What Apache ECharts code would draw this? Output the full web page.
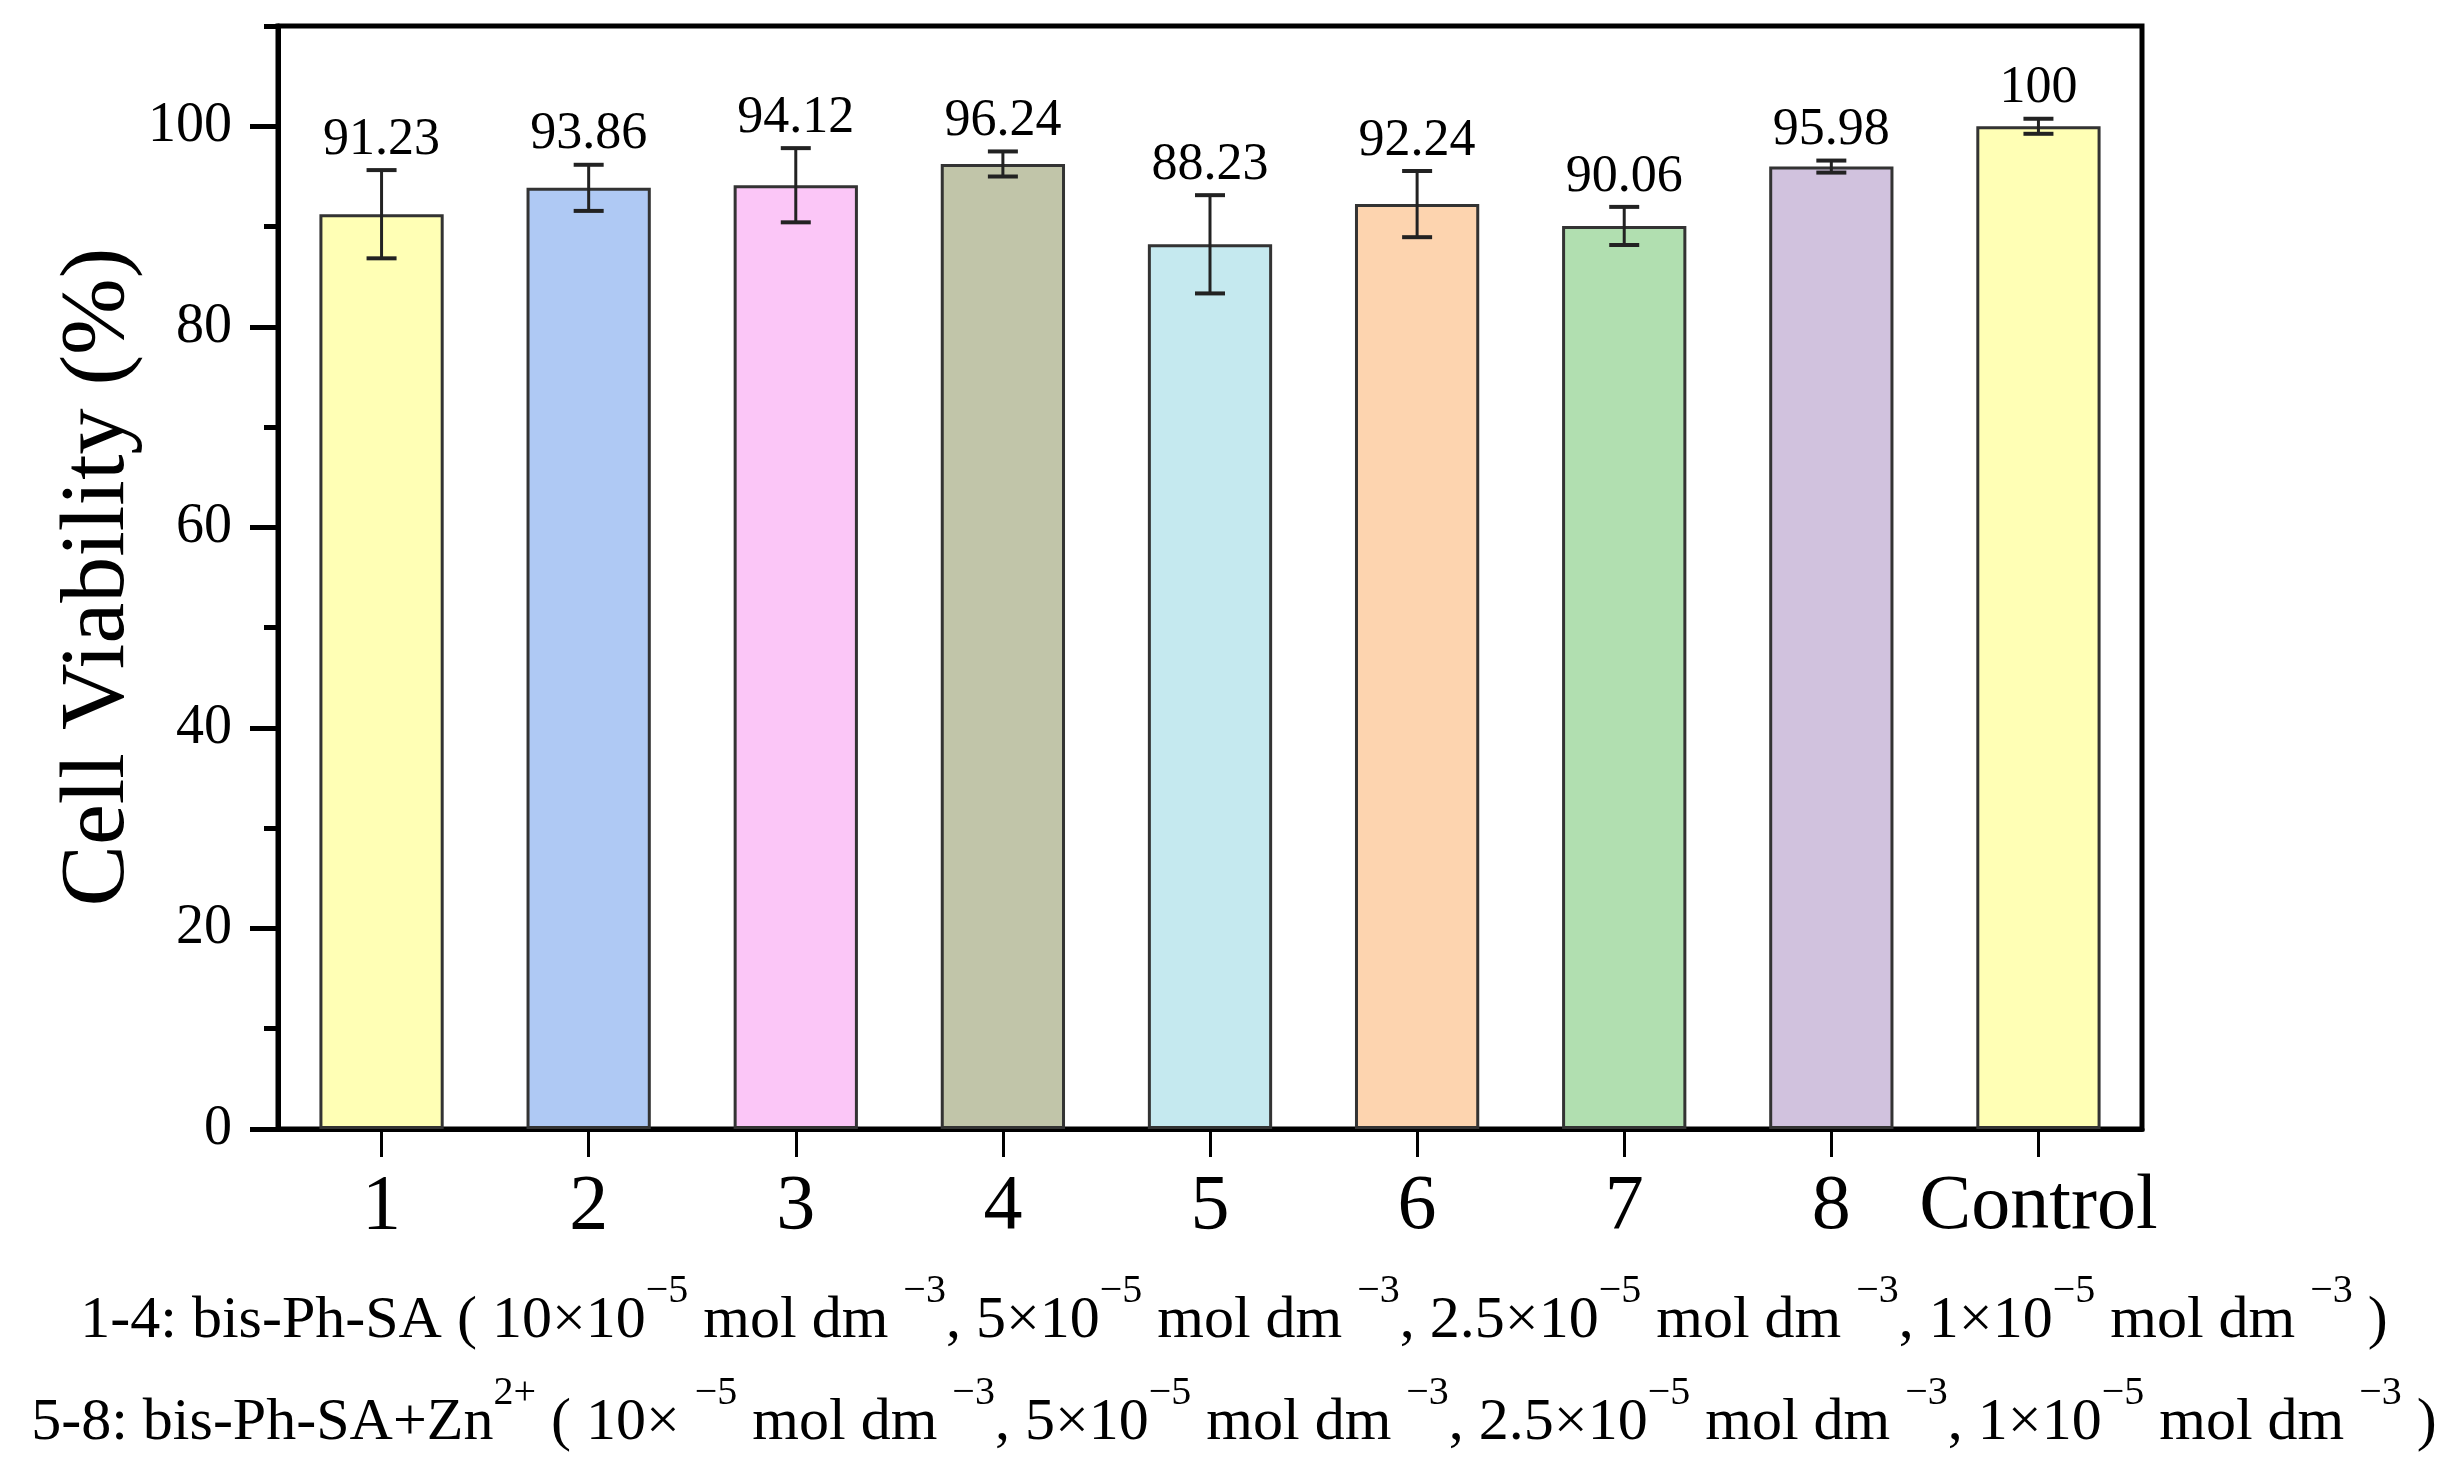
<!DOCTYPE html>
<html>
<head>
<meta charset="utf-8">
<script src="https://cdn.jsdelivr.net/npm/echarts@6/dist/echarts.min.js"></script>
<style>
html,body{margin:0;padding:0;background:#fff;}
#chart{width:2460px;height:1468px;}
</style>
</head>
<body>
<div id="chart"></div>
<script>
// ---- data ----
const categories = ['1', '2', '3', '4', '5', '6', '7', '8', 'Control'];
const viability = [91.23, 93.86, 94.12, 96.24, 88.23, 92.24, 90.06, 95.98, 100];
const errors = [4.4, 2.3, 3.7, 1.25, 4.9, 3.3, 1.9, 0.6, 0.75];
const yMajorTicks = [0, 20, 40, 60, 80, 100];
const yMinorTicks = [10, 30, 50, 70, 90, 110];
const barColors = ['#FFFFB5', '#AFC9F4', '#FBC6F7', '#C1C5A9', '#C5E9EF', '#FDD4AF', '#B1DFB0', '#D1C2DE', '#FFFFB5'];
const yTitle = 'Cell Viability (%)';

const FONT = '"Liberation Serif", "Times New Roman", serif';

const errData = categories.map((c, i) => [i, viability[i] - errors[i], viability[i] + errors[i], viability[i]]);

function sup(t) { return '{s|' + t + '}'; }
function nrm(t) { return '{n|' + t + '}'; }
const note1 = nrm('1-4: bis-Ph-SA ( 10×10') + sup('−5') + nrm(' mol dm ') + sup('−3') +
  nrm(', 5×10') + sup('−5') + nrm(' mol dm ') + sup('−3') +
  nrm(', 2.5×10') + sup('−5') + nrm(' mol dm ') + sup('−3') +
  nrm(', 1×10') + sup('−5') + nrm(' mol dm ') + sup('−3') + nrm(' )');
const note2 = nrm('5-8: bis-Ph-SA+Zn') + sup('2+') + nrm(' ( 10× ') + sup('−5') + nrm(' mol dm ') + sup('−3') +
  nrm(', 5×10') + sup('−5') + nrm(' mol dm ') + sup('−3') +
  nrm(', 2.5×10') + sup('−5') + nrm(' mol dm ') + sup('−3') +
  nrm(', 1×10') + sup('−5') + nrm(' mol dm ') + sup('−3') + nrm(' )');

const richStyle = {
  n: { fontSize: 60, lineHeight: 80, verticalAlign: 'bottom', fontFamily: FONT, color: '#000' },
  s: { fontSize: 40, lineHeight: 46, verticalAlign: 'top', fontFamily: FONT, color: '#000' }
};

const chart = echarts.init(document.getElementById('chart'), null, { renderer: 'canvas' });
const option = {
  backgroundColor: '#fff',
  animation: false,
  grid: {
    left: 278, right: 318, top: 26, bottom: 339,
    show: true, borderColor: '#000', borderWidth: 5, backgroundColor: 'transparent'
  },
  xAxis: {
    type: 'category',
    data: categories,
    boundaryGap: true,
    axisLine: { show: true, lineStyle: { color: '#000', width: 5 } },
    axisTick: { show: true, alignWithLabel: true, interval: 0, length: 28, lineStyle: { color: '#000', width: 3 } },
    axisLabel: { interval: 0, fontFamily: FONT, fontSize: 78, color: '#000', margin: 40 },
    splitLine: { show: false }
  },
  yAxis: [{
    type: 'value', min: 0, max: 110, position: 'left',
    axisLine: { show: true, lineStyle: { color: '#000', width: 5 } },
    axisTick: { show: true, length: 28, lineStyle: { color: '#000', width: 5 }, customValues: yMajorTicks },
    axisLabel: { fontFamily: FONT, fontSize: 56, color: '#000', margin: 46, customValues: yMajorTicks },
    splitLine: { show: false }
  }, {
    type: 'value', min: 0, max: 110, position: 'left',
    axisLine: { show: false },
    axisTick: { show: true, length: 14, lineStyle: { color: '#000', width: 5 }, customValues: yMinorTicks },
    axisLabel: { show: false },
    splitLine: { show: false }
  }],
  series: [{
    type: 'bar',
    data: viability,
    barWidth: '60%',
    itemStyle: {
      color: (p) => barColors[p.dataIndex],
      borderColor: '#333',
      borderWidth: 3
    }
  }, {
    type: 'custom',
    data: errData,
    encode: { x: 0, y: [1, 2] },
    z: 10,
    renderItem: function (params, api) {
      const x = api.value(0);
      const lo = api.coord([x, api.value(1)]);
      const hi = api.coord([x, api.value(2)]);
      const hw = 15;
      const st = { stroke: '#222', lineWidth: 3 };
      const cap = { stroke: '#222', lineWidth: 4 };
      const val = api.value(3);
      return {
        type: 'group',
        children: [
          { type: 'line', shape: { x1: hi[0], y1: hi[1], x2: lo[0], y2: lo[1] }, style: st },
          { type: 'line', shape: { x1: hi[0] - hw, y1: hi[1], x2: hi[0] + hw, y2: hi[1] }, style: cap },
          { type: 'line', shape: { x1: lo[0] - hw, y1: lo[1], x2: lo[0] + hw, y2: lo[1] }, style: cap },
          { type: 'text', style: {
              text: String(val), x: hi[0], y: hi[1] - 4,
              align: 'center', verticalAlign: 'bottom',
              font: '52px ' + FONT, fill: '#000'
          } }
        ]
      };
    }
  }],
  graphic: [{
    type: 'text',
    x: 99, y: 577,
    rotation: Math.PI / 2,
    style: { text: yTitle, font: '92px ' + FONT, fill: '#000', align: 'center', verticalAlign: 'middle' }
  }, {
    type: 'text',
    x: 1234, y: 1311,
    style: { text: note1, rich: richStyle, align: 'center', verticalAlign: 'middle', fontFamily: FONT, fontSize: 60, fill: '#000' }
  }, {
    type: 'text',
    x: 1234, y: 1413,
    style: { text: note2, rich: richStyle, align: 'center', verticalAlign: 'middle', fontFamily: FONT, fontSize: 60, fill: '#000' }
  }]
};
chart.setOption(option);
</script>
</body>
</html>
